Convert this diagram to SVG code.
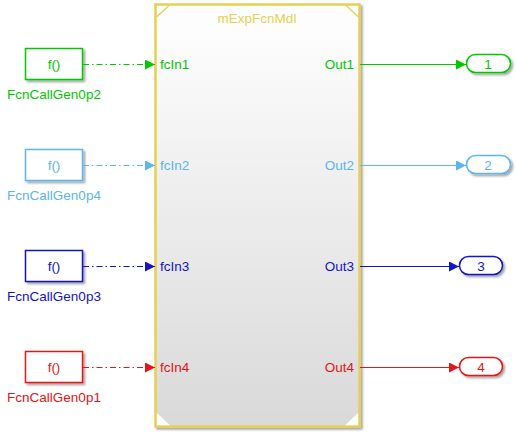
<svg xmlns="http://www.w3.org/2000/svg" width="516" height="437" viewBox="0 0 516 437">
<defs>
<linearGradient id="sg" x1="0" y1="0" x2="0" y2="1">
<stop offset="0" stop-color="#ffffff"/>
<stop offset="1" stop-color="#d9d9d9"/>
</linearGradient>
<filter id="sh" x="-20%" y="-20%" width="140%" height="140%">
<feGaussianBlur in="SourceAlpha" stdDeviation="1.2"/>
<feOffset dx="2" dy="2" result="b"/>
<feComponentTransfer><feFuncA type="linear" slope="0.35"/></feComponentTransfer>
<feMerge><feMergeNode/><feMergeNode in="SourceGraphic"/></feMerge>
</filter>
<marker id="ag" markerWidth="10" markerHeight="10" refX="10" refY="5" orient="auto" markerUnits="userSpaceOnUse"><path d="M0,0 L10,5 L0,10 Z" fill="#00c800"/></marker>
<marker id="alb" markerWidth="10" markerHeight="10" refX="10" refY="5" orient="auto" markerUnits="userSpaceOnUse"><path d="M0,0 L10,5 L0,10 Z" fill="#5bb5f0"/></marker>
<marker id="ab" markerWidth="10" markerHeight="10" refX="10" refY="5" orient="auto" markerUnits="userSpaceOnUse"><path d="M0,0 L10,5 L0,10 Z" fill="#1414c8"/></marker>
<marker id="ar" markerWidth="10" markerHeight="10" refX="10" refY="5" orient="auto" markerUnits="userSpaceOnUse"><path d="M0,0 L10,5 L0,10 Z" fill="#e61414"/></marker>
</defs>
<style>
text{font-family:"Liberation Sans",Arial,sans-serif;font-size:13.5px}
.blk{fill:#fff;stroke-width:1.5;filter:url(#sh)}
.g{fill:#00c800;stroke:#00c800}
.lb{fill:#5bb5f0;stroke:#5bb5f0}
.b{fill:#1414c8;stroke:#1414c8}
.r{fill:#e61414;stroke:#e61414}
text.g,text.lb,text.b,text.r{stroke:none}
.fc{fill:none;stroke-width:1;stroke-dasharray:6 3 1.5 3}
.sig{fill:none;stroke-width:1.2}
.mid{text-anchor:middle}
.end{text-anchor:end}
</style>

<g id="subsystem">
<rect x="155.5" y="4.5" width="204" height="422" fill="url(#sg)" stroke="#e8cf4f" stroke-width="2.5" filter="url(#sh)"/>
<path d="M156.5,17 L169,5.5" stroke="#e8cf4f" stroke-width="1.2" fill="none"/>
<path d="M358.5,17 L346,5.5" stroke="#e8cf4f" stroke-width="1.2" fill="none"/>
<path d="M156.8,413 L156.8,425.2 L170,425.2 Z" fill="#fff"/>
<path d="M358.2,413 L358.2,425.2 L345,425.2 Z" fill="#fff"/>
<text x="257" y="23" class="mid" fill="#e8cf4f" font-size="14">mExpFcnMdl</text>
<text x="160" y="69" class="g">fcIn1</text>
<text x="160" y="170" class="lb">fcIn2</text>
<text x="160" y="271" class="b">fcIn3</text>
<text x="160" y="372" class="r">fcIn4</text>
<text x="354" y="69" class="g end">Out1</text>
<text x="354" y="170" class="lb end">Out2</text>
<text x="354" y="271" class="b end">Out3</text>
<text x="354" y="372" class="r end">Out4</text>
</g>

<g id="FcnCallGen0p2">
<rect x="25.5" y="48.5" width="57" height="31" class="blk" stroke="#00c800"/>
<text x="54" y="69" class="g mid">f()</text>
<text x="54" y="99" class="g mid" font-size="14">FcnCallGen0p2</text>
</g>
<g id="FcnCallGen0p4">
<rect x="25.5" y="149.5" width="57" height="31" class="blk" stroke="#5bb5f0"/>
<text x="54" y="170" class="lb mid">f()</text>
<text x="54" y="200" class="lb mid" font-size="14">FcnCallGen0p4</text>
</g>
<g id="FcnCallGen0p3">
<rect x="25.5" y="250.5" width="57" height="31" class="blk" stroke="#1414c8"/>
<text x="54" y="271" class="b mid">f()</text>
<text x="54" y="301" class="b mid" font-size="14">FcnCallGen0p3</text>
</g>
<g id="FcnCallGen0p1">
<rect x="25.5" y="351.5" width="57" height="31" class="blk" stroke="#e61414"/>
<text x="54" y="372" class="r mid">f()</text>
<text x="54" y="402" class="r mid" font-size="14">FcnCallGen0p1</text>
</g>

<g id="Out1">
<rect x="466.5" y="54.5" width="44" height="18" rx="9" class="blk" stroke="#00c800"/>
<text x="488" y="69" class="g mid">1</text>
</g>
<g id="Out2">
<rect x="466.5" y="155.5" width="44" height="18" rx="9" class="blk" stroke="#5bb5f0"/>
<text x="488" y="170" class="lb mid">2</text>
</g>
<g id="Out3">
<rect x="459.5" y="256.5" width="43" height="18" rx="9" class="blk" stroke="#1414c8"/>
<text x="481" y="271" class="b mid">3</text>
</g>
<g id="Out4">
<rect x="459.5" y="357.5" width="43" height="18" rx="9" class="blk" stroke="#e61414"/>
<text x="481" y="372" class="r mid">4</text>
</g>

<g id="connectors">
<path d="M83,64.5 L155,64.5" class="fc" stroke="#00c800" marker-end="url(#ag)"/>
<path d="M83,165.5 L155,165.5" class="fc" stroke="#5bb5f0" marker-end="url(#alb)"/>
<path d="M83,266.5 L155,266.5" class="fc" stroke="#1414c8" marker-end="url(#ab)"/>
<path d="M83,367.5 L155,367.5" class="fc" stroke="#e61414" marker-end="url(#ar)"/>
<path d="M360,64.5 L466,64.5" class="sig" stroke="#00c800" marker-end="url(#ag)"/>
<path d="M360,165.5 L466,165.5" class="sig" stroke="#5bb5f0" marker-end="url(#alb)"/>
<path d="M360,266.5 L459,266.5" class="sig" stroke="#1414c8" marker-end="url(#ab)"/>
<path d="M360,367.5 L459,367.5" class="sig" stroke="#e61414" marker-end="url(#ar)"/>
</g>
</svg>
